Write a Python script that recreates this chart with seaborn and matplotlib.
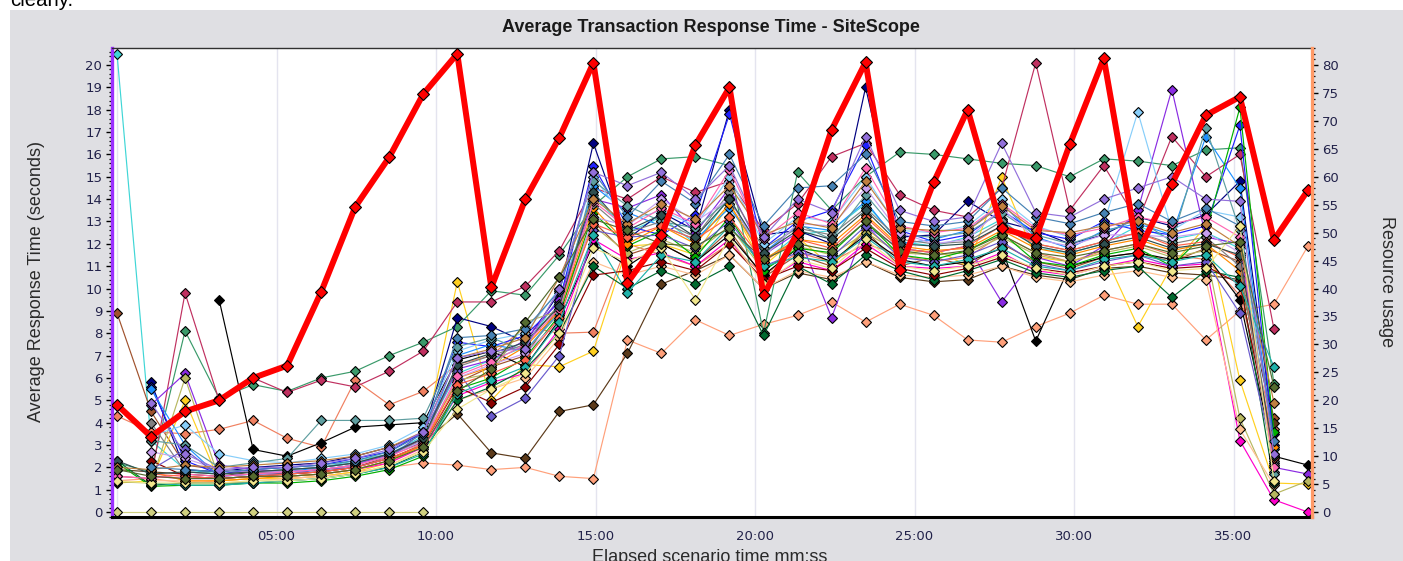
import numpy as np
import pandas as pd
import matplotlib
matplotlib.use("Agg")
import matplotlib.pyplot as plt
import seaborn as sns
from matplotlib.ticker import MultipleLocator, FuncFormatter
from matplotlib.patches import Rectangle

# ---------------- data ----------------
elapsed = ["00:00", "01:04", "02:08", "03:12", "04:16", "05:20", "06:24", "07:28",
           "08:32", "09:36", "10:40", "11:44", "12:48", "13:52", "14:56", "16:00",
           "17:04", "18:08", "19:12", "20:16", "21:20", "22:24", "23:28", "24:32",
           "25:36", "26:40", "27:44", "28:48", "29:52", "30:56", "32:00", "33:04",
           "34:08", "35:12", "36:16", "37:20"]

resource_usage = [19.2, 13.5, 18.0, 20.0, 24.0, 26.2, 39.4, 54.6, 63.5, 74.8, 82.0, 40.2,
                  56.0, 67.0, 80.4, 41.0, 49.5, 65.7, 76.0, 38.8, 50.0, 68.4, 80.5, 43.3,
                  59.0, 72.0, 50.8, 49.0, 65.8, 81.2, 46.4, 58.7, 71.0, 74.3, 48.7, 57.6]

N = None
tx01 = [20.5, 3.2, 1.9, 1.7, 1.8, 1.9, 2.0, 2.3, 2.6, 3.4, 6.2, 6.8, 7.4, 9.6, 14.2, 12.5, 13.2, 12.0, 14.1, 11.2, 12.4, 12.6, 13.8, 12.1, 11.9, 12.3, 13.1, 11.8, 11.6, 12.0, 12.8, 12.2, 12.5, 11.8, 2.2, N]
tx02 = [8.9, 4.5, 2.1, 1.9, 1.8, 1.7, 1.8, 2.0, 2.5, 3.3, 5.8, 6.5, 7.0, 9.2, 13.0, 11.5, 12.0, 11.2, 12.6, 10.5, 11.5, 11.0, 12.6, 11.0, 11.4, 11.0, 12.0, 11.2, 10.9, 11.4, 11.6, 11.2, 11.8, 11.2, 4.2, N]
tx03 = [1.4, 1.5, 1.3, 1.4, 1.5, 1.5, 1.6, 1.8, 2.0, 2.2, 2.1, 1.9, 2.0, 1.6, 1.5, 7.7, 7.1, 8.6, 7.9, 8.4, 8.8, 9.4, 8.5, 9.3, 8.8, 7.7, 7.6, 8.3, 8.9, 9.7, 9.3, 9.3, 7.7, 9.0, 9.3, 11.9]
tx04 = [4.3, 3.6, 3.5, 3.7, 4.1, 3.3, 2.9, 5.9, 4.8, 5.4, 6.6, 7.0, 8.3, 8.0, 8.05, 12.0, 11.5, 11.0, 12.0, 10.6, 11.6, 11.2, 12.0, 11.5, 11.2, 11.4, 12.4, 11.6, 11.2, 11.7, 12.0, 11.5, 11.3, 9.7, 3.7, N]
tx05 = [1.9, 1.8, 1.7, 1.6, 1.8, 1.8, 1.9, 2.1, 2.6, 3.1, 4.4, 2.65, 2.4, 4.5, 4.8, 7.1, 10.2, 10.8, 11.5, 10.0, 10.7, 10.4, 11.2, 10.5, 10.3, 10.4, 11.0, 10.6, 10.4, 10.9, 11.0, 10.7, 10.6, 10.4, 4.0, N]
tx06 = [1.3, 1.4, 5.0, 1.4, 1.5, 1.5, 1.6, 1.8, 2.2, 3.0, 10.3, 5.0, 6.6, 6.5, 7.2, 11.9, 12.0, 11.5, 13.8, 11.0, 12.3, 11.0, 12.7, 11.5, 11.8, 11.0, 15.0, 11.4, 11.2, 11.6, 8.3, 11.0, 12.8, 5.9, 1.3, 1.25]
tx07 = [2.2, 1.8, 8.1, 5.1, 5.7, 5.4, 6.0, 6.3, 7.0, 7.6, 8.3, 9.9, 9.7, 11.5, 13.7, 15.0, 15.8, 15.9, 15.5, 8.0, 15.2, 13.5, 15.0, 16.1, 16.0, 15.8, 15.6, 15.5, 15.0, 15.8, 15.7, 15.5, 16.2, 16.3, 5.75, N]
tx08 = [1.6, 1.5, 9.8, 5.0, 6.0, 5.35, 5.9, 5.6, 6.3, 7.2, 9.4, 9.4, 10.1, 11.7, 14.5, 14.0, 15.0, 14.3, 14.8, 12.6, 13.8, 15.9, 16.5, 14.2, 13.5, 13.2, 14.5, 20.1, 13.5, 15.5, 13.0, 16.8, 15.0, 16.0, 8.2, N]
tx09 = [N, N, N, 9.5, 2.8, 2.5, 3.1, 3.8, 3.9, 4.0, 6.8, 7.2, 6.5, 8.6, 12.0, 11.0, 12.0, 11.2, 12.4, 10.6, 11.8, 11.2, 12.4, 11.3, 11.0, 11.2, 11.8, 7.65, 11.0, 11.4, 11.6, 11.3, 11.5, 9.5, 2.5, 2.1]
tx10 = [N, 5.8, 1.9, 1.8, 2.0, 2.1, 2.2, 2.5, 2.9, 3.5, 8.7, 8.3, 7.6, 9.8, 16.5, 12.2, 13.4, 12.6, 18.0, 12.4, 12.6, 12.0, 19.0, 12.3, 12.4, 13.9, 13.0, 12.6, 12.0, 12.4, 13.2, 12.8, 13.3, 14.8, 3.5, N]
tx11 = [N, 5.6, 2.3, 1.7, 1.9, 2.0, 2.1, 2.4, 2.7, 3.6, 7.6, 7.4, 7.9, 9.4, 15.5, 12.8, 12.4, 13.3, 17.8, 11.8, 13.0, 13.5, 16.4, 12.6, 12.1, 12.4, 13.5, 12.5, 12.2, 13.0, 12.6, 12.4, 12.8, 17.3, 3.0, N]
tx12 = [N, 5.5, 3.0, 1.6, 1.7, 1.8, 2.0, 2.2, 2.5, 3.2, 7.0, 7.5, 7.2, 9.0, 14.6, 13.4, 12.8, 12.2, 13.6, 11.6, 12.8, 12.6, 13.9, 12.0, 12.2, 12.6, 13.8, 12.3, 11.8, 12.6, 12.9, 12.4, 16.8, 14.5, 2.8, N]
tx13 = [N, 4.8, 6.2, 2.1, 1.9, 1.8, 1.9, 2.1, 2.6, 3.3, 6.4, 6.8, 7.7, 9.5, 14.0, 13.6, 14.2, 12.5, 14.5, 11.5, 12.5, 8.7, 12.8, 11.8, 11.6, 11.9, 9.4, 11.4, 11.0, 11.9, 13.5, 18.9, 12.3, 12.0, 2.0, 1.7]
tx14 = [N, 1.6, 1.5, 1.5, 1.6, 1.6, 1.7, 1.9, 2.2, 2.9, 5.2, 5.8, 6.2, 8.2, 12.2, 11.3, 11.6, 11.0, 12.2, 10.3, 11.2, 10.8, 12.0, 11.0, 10.9, 11.0, 11.6, 10.8, 10.6, 11.0, 11.3, 11.0, 11.1, 3.2, 0.55, 0.0]
tx15 = [0.0, 0.0, 0.0, 0.0, 0.0, 0.0, 0.0, 0.0, 0.0, 0.0, N, N, N, N, N, N, N, N, N, N, N, N, N, N, N, N, N, N, N, N, N, N, N, N, N, N]
tx16 = [1.35, 1.3, 6.0, 1.5, 1.6, 1.6, 1.7, 1.9, 2.3, 3.1, 5.9, 6.2, 8.5, 9.0, 12.8, 11.6, 12.2, 11.6, 12.8, 10.8, 11.9, 11.5, 12.5, 11.6, 11.5, 11.6, 12.3, 11.5, 11.2, 11.6, 11.9, 11.4, 11.7, 4.2, 0.8, 1.4]
tx17 = [N, 1.4, 1.4, 1.3, 1.4, 1.5, 1.6, 1.7, 2.1, 2.8, 5.0, 5.5, 6.0, 7.8, 11.2, 10.6, 11.0, 10.6, 11.5, 10.0, 10.8, 10.5, 11.2, 10.6, 10.5, 10.6, 11.0, 10.5, 10.3, 10.6, 10.8, 10.5, 10.4, 3.7, 1.2, N]
tx18 = [2.2, 1.15, 1.2, 1.2, 1.3, 1.3, 1.4, 1.6, 1.9, 2.5, 5.5, 6.0, 6.9, 8.8, 13.4, 11.9, 12.6, 11.4, 13.2, 10.8, 11.8, 11.6, 13.0, 11.5, 11.3, 11.7, 12.5, 11.2, 11.0, 11.5, 11.8, 11.0, 12.5, 18.1, 3.6, N]
tx19 = [2.3, 1.2, 1.3, 1.3, 1.3, 1.4, 1.5, 1.7, 2.0, 2.7, 5.0, 5.6, 6.4, 8.0, 11.0, 10.0, 10.8, 10.2, 11.0, 7.9, 11.0, 10.2, 11.5, 10.8, 10.4, 10.8, 11.3, 10.7, 10.5, 10.8, 11.0, 9.6, 10.8, 10.5, 1.3, N]
tx20 = [N, 2.3, 1.6, 1.5, 1.6, 1.7, 1.8, 2.0, 2.4, 3.0, 5.6, 4.9, 5.6, 7.5, 10.6, 10.8, 11.2, 10.8, 12.0, 10.4, 11.0, 10.8, 11.8, 10.9, 10.6, 10.9, 11.4, 10.9, 10.7, 11.0, 11.2, 10.9, 11.0, 10.2, 2.6, N]
tx21 = [N, 1.8, 1.4, 1.4, 1.5, 1.6, 1.7, 1.9, 2.3, 3.0, 6.0, 6.5, 7.4, 9.0, 13.6, 12.0, 12.8, 12.0, 13.8, 11.3, 12.2, 12.0, 13.3, 11.9, 11.7, 11.8, 12.6, 11.8, 11.5, 11.9, 12.2, 11.7, 12.0, 10.8, 2.9, N]
tx22 = [N, 4.0, 1.8, 1.7, 1.8, 1.9, 2.0, 2.2, 2.6, 3.2, 6.5, 7.0, 7.5, 9.3, 13.8, 12.5, 13.0, 12.3, 14.3, 11.8, 12.7, 12.4, 13.6, 12.2, 12.0, 12.1, 13.0, 12.0, 11.7, 12.1, 12.5, 12.0, 12.3, 11.0, 2.3, N]
tx23 = [N, 3.4, 3.9, 2.6, 2.3, 2.2, 2.4, 2.6, 3.0, 3.8, 7.2, 7.7, 8.0, 10.0, 15.0, 13.0, 13.5, 12.8, 15.0, 12.0, 13.2, 13.0, 15.0, 12.6, 12.5, 12.8, 14.0, 12.8, 12.3, 12.9, 17.9, 12.6, 13.5, 13.2, 1.8, N]
tx24 = [N, 3.2, 3.0, 2.0, 2.2, 2.4, 4.1, 4.1, 4.1, 4.2, 7.4, 7.8, 7.2, 8.9, 14.8, 13.7, 13.0, 12.7, 14.0, 11.4, 12.9, 12.2, 14.2, 12.4, 12.3, 12.5, 13.4, 12.4, 12.0, 12.5, 13.1, 12.1, 17.2, 12.6, 1.7, N]
tx25 = [N, 2.7, 2.4, 1.9, 1.8, 1.8, 1.9, 2.1, 2.5, 3.2, 6.0, 6.6, 7.1, 8.6, 13.2, 12.8, 14.0, 13.0, 14.0, 11.4, 12.9, 12.8, 14.5, 12.5, 12.0, 12.2, 13.6, 12.2, 11.9, 12.4, 12.4, 12.3, 12.5, 11.6, 2.1, N]
tx26 = [N, 1.9, 2.8, 1.6, 1.7, 1.7, 1.9, 2.0, 2.4, 3.6, 6.3, 4.3, 5.1, 7.0, 12.6, 12.3, 12.4, 11.8, 13.0, 11.0, 11.6, 11.4, 12.8, 11.4, 11.2, 11.5, 12.1, 11.1, 10.8, 11.2, 11.5, 11.0, 11.2, 8.9, 2.4, N]
tx27 = [1.6, 1.5, 1.7, 1.6, 1.7, 1.8, 1.9, 2.1, 2.5, 3.1, 6.1, 6.7, 7.5, 9.1, 13.9, 12.7, 13.6, 12.9, 15.3, 12.2, 13.4, 12.9, 15.4, 12.8, 12.5, 12.7, 13.8, 12.7, 12.4, 12.7, 13.2, 12.9, 13.2, 12.3, 2.0, N]
tx28 = [N, 1.7, 1.6, 1.5, 1.6, 1.7, 1.8, 2.0, 2.4, 3.0, 5.7, 6.2, 6.8, 8.7, 12.9, 12.3, 12.8, 12.2, 13.2, 11.2, 12.2, 11.8, 13.2, 11.8, 11.6, 11.9, 12.8, 12.0, 11.7, 12.1, 12.5, 11.9, 12.1, 11.4, 2.4, N]
tx29 = [2.3, 1.7, 1.8, 1.7, 1.8, 1.9, 2.0, 2.2, 2.6, 3.3, 6.6, 7.1, 7.6, 9.2, 14.3, 12.6, 13.3, 12.3, 14.0, 11.6, 12.6, 12.2, 13.5, 12.0, 11.9, 12.0, 12.8, 11.9, 11.6, 12.0, 12.3, 11.8, 12.0, 11.5, 2.5, N]
tx30 = [2.0, 1.9, 2.1, 2.0, 2.1, 2.2, 2.3, 2.5, 2.9, 3.6, 6.9, 7.3, 7.8, 10.5, 14.0, 12.9, 13.8, 13.1, 14.6, 12.4, 13.0, 12.7, 14.8, 12.7, 12.6, 12.6, 13.7, 12.6, 12.5, 12.8, 13.0, 12.5, 12.9, 11.9, 4.9, N]
tx31 = [N, 2.0, 1.9, 1.8, 1.9, 2.0, 2.1, 2.3, 2.7, 3.5, 7.8, 7.9, 8.2, 9.9, 15.2, 13.2, 14.8, 13.8, 16.0, 12.8, 14.5, 14.6, 16.0, 13.0, 12.8, 13.0, 14.5, 13.2, 12.9, 13.4, 13.8, 13.0, 13.6, 12.8, 3.2, N]
tx32 = [N, 4.9, 2.6, 1.9, 2.0, 2.0, 2.2, 2.4, 2.8, 3.6, 6.9, 7.2, 7.3, 10.0, 15.2, 14.6, 15.2, 14.0, 15.5, 12.3, 14.0, 13.4, 16.8, 13.5, 13.0, 13.2, 16.5, 13.4, 13.2, 14.0, 14.5, 15.0, 14.0, 13.9, 2.6, N]
tx33 = [N, 1.3, 1.2, 1.2, 1.3, 1.4, 1.5, 1.7, 2.0, 2.6, 5.3, 5.9, 6.5, 8.5, 12.4, 9.8, 11.5, 11.2, 12.8, 11.0, 11.4, 11.2, 12.3, 11.2, 11.0, 11.3, 11.8, 11.0, 10.8, 11.3, 11.5, 11.2, 11.5, 10.1, 6.5, N]
tx34 = [1.4, 1.3, 1.3, 1.3, 1.4, 1.4, 1.5, 1.7, 2.1, 2.7, 4.6, 5.5, 6.2, 8.0, 11.8, 11.2, 11.8, 9.5, 12.3, 10.2, 11.3, 10.9, 12.2, 11.0, 10.8, 11.0, 11.5, 10.9, 10.6, 11.0, 11.2, 10.8, 10.9, 12.8, 1.4, N]
tx35 = [1.9, 1.6, 1.5, 1.5, 1.6, 1.6, 1.7, 1.9, 2.3, 2.9, 5.4, 6.4, 8.5, 10.5, 13.1, 12.6, 12.0, 11.9, 12.7, 11.3, 12.0, 11.7, 13.0, 11.7, 11.5, 11.7, 12.4, 11.6, 11.4, 11.7, 12.0, 11.6, 11.9, 12.1, 5.6, N]

series_values = [tx01, tx02, tx03, tx04, tx05, tx06, tx07, tx08, tx09, tx10, tx11, tx12,
                 tx13, tx14, tx15, tx16, tx17, tx18, tx19, tx20, tx21, tx22, tx23, tx24,
                 tx25, tx26, tx27, tx28, tx29, tx30, tx31, tx32, tx33, tx34, tx35]
series_names = [f"Transaction {i + 1:02d}" for i in range(len(series_values))]
series_colors = ["#3fd6d6", "#a0522d", "#ffa07a", "#f08060", "#5c3a1a", "#ffd020", "#3a9a6a",
                 "#c03060", "#000000", "#000080", "#2020ff", "#1e90ff", "#8a2be2", "#ff00cc",
                 "#d0d080", "#b8b860", "#ffc090", "#00b000", "#006a30", "#8b0000", "#ff8c00",
                 "#808080", "#87cefa", "#5f9ea0", "#c8a0f0", "#6a5acd", "#ff69b4", "#ff6347",
                 "#2f4f4f", "#c08040", "#4682b4", "#9370db", "#20b2aa", "#f0e68c", "#556b2f"]

y_ticks_left = list(range(0, 21))
y_ticks_right = list(range(0, 81, 5))

# ---------------- build data frame ----------------
def to_minutes(s):
    m, sec = s.split(":")
    return int(m) + int(sec) / 60.0

t_min = [to_minutes(s) for s in elapsed]
rows = []
for name, vals in zip(series_names, series_values):
    for t, v in zip(t_min, vals):
        if v is not None:
            rows.append((name, t, v))
df = pd.DataFrame(rows, columns=["series", "t", "value"])
res_df = pd.DataFrame({"t": t_min, "usage": resource_usage})
palette = dict(zip(series_names, series_colors))

# ---------------- figure ----------------
sns.set_style("white")
W, H = 1403, 561
fig = plt.figure(figsize=(W / 100, H / 100), dpi=100)
fig.patch.set_facecolor("white")
fig.patches.append(Rectangle((10 / W, 0), 1 - 10 / W, 1 - 10 / H, transform=fig.transFigure,
                             facecolor="#dfdfe3", edgecolor="none", zorder=-10))
fig.text(10 / W, 1 - 6 / H, "clearly.", fontsize=14.7, family="Liberation Sans",
         color="black", va="baseline", ha="left")

ax = fig.add_axes([112 / W, 44 / H, 1200 / W, 469 / H])
ax.set_facecolor("white")

sns.lineplot(data=df, x="t", y="value", hue="series", palette=palette, ax=ax,
             legend=False, estimator=None, sort=True, linewidth=0.85,
             marker="D", markersize=5.0, markeredgecolor="black",
             markeredgewidth=0.8)

ax.set_xlim(-0.157, 37.46)
ax.set_ylim(-0.22, 20.76)

ax2 = ax.twinx()
sns.lineplot(data=res_df, x="t", y="usage", ax=ax2, color="#ff0000", linewidth=4.3,
             marker="D", markersize=5.8, markerfacecolor="#ff0000",
             markeredgecolor="black", markeredgewidth=0.8, legend=False)
ax2.set_ylim(-0.88, 83.04)
ax2.set_xlim(-0.157, 37.46)

# ---------------- axes styling ----------------
tick_color = "#22224a"
ax.xaxis.set_major_locator(MultipleLocator(5))
ax.xaxis.set_minor_locator(MultipleLocator(1))
ax.xaxis.set_major_formatter(FuncFormatter(lambda v, p: "" if v <= 0 else f"{int(round(v)):02d}:00"))
ax.tick_params(axis="x", which="both", direction="out", length=4.5, width=1.2,
               color="black", pad=5, labelsize=9.5, labelcolor=tick_color)
ax.set_yticks(y_ticks_left)
ax.yaxis.set_minor_locator(MultipleLocator(0.2))
ax.tick_params(axis="y", which="major", direction="out", length=4.5, width=1.0,
               color="black", pad=2.5, labelsize=9.5, labelcolor=tick_color)
ax.tick_params(axis="y", which="minor", direction="out", length=2.0, width=0.9, color="black")
ax.set_xlabel("")
ax.set_ylabel("")
ax.grid(axis="x", which="major", color="#e4e4ef", linewidth=1.0)
ax.set_axisbelow(True)

ax2.set_yticks(y_ticks_right)
ax2.yaxis.set_minor_locator(MultipleLocator(1))
ax2.tick_params(axis="y", which="major", direction="out", length=4.5, width=1.0,
                color="black", pad=2.5, labelsize=9.5, labelcolor=tick_color)
ax2.tick_params(axis="y", which="minor", direction="out", length=2.0, width=0.9, color="black")
ax2.set_ylabel("")
ax2.set_xlabel("")

for side in ["left", "bottom", "top"]:
    ax2.spines[side].set_visible(False)
ax2.spines["right"].set_color("#ff9966")
ax2.spines["right"].set_linewidth(2.4)
ax.spines["right"].set_visible(False)
ax.spines["left"].set_color("#9b30ff")
ax.spines["left"].set_linewidth(2.4)
ax.spines["bottom"].set_color("black")
ax.spines["bottom"].set_linewidth(2.2)
ax.spines["top"].set_color("#303030")
ax.spines["top"].set_linewidth(1.0)

# ---------------- texts ----------------
fig.text(711 / W, 1 - 28 / H, "Average Transaction Response Time - SiteScope",
         fontsize=13, fontweight="bold", family="Liberation Sans", color="#1a1a1a",
         ha="center", va="center")
fig.text(37 / W, 1 - 282 / H, "Average Response Time (seconds)", fontsize=13,
         family="Liberation Sans", color="#2a2a2a", rotation=90, ha="center", va="center")
fig.text(1387 / W, 1 - 282 / H, "Resource usage", fontsize=13,
         family="Liberation Sans", color="#2a2a2a", rotation=270, ha="center", va="center")
fig.text(710 / W, 1 - 549 / H, "Elapsed scenario time mm:ss", fontsize=13,
         family="Liberation Sans", color="#2a2a2a", ha="center", va="top")

fig.savefig("out.png", dpi=100, facecolor=fig.get_facecolor())
